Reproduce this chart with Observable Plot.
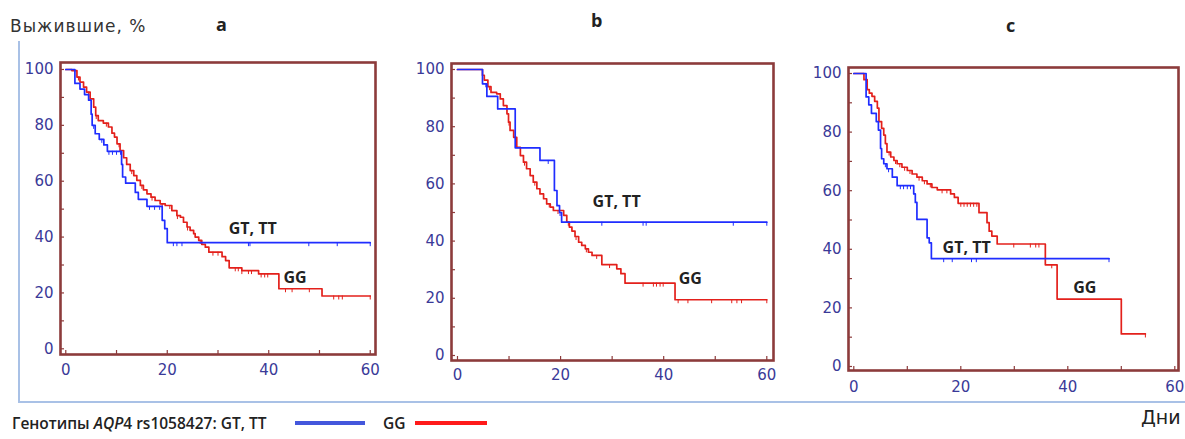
<!DOCTYPE html>
<html><head><meta charset="utf-8">
<script src="https://cdn.jsdelivr.net/npm/d3@7"></script>
<script src="https://cdn.jsdelivr.net/npm/@observablehq/plot@0.6"></script>
<style>
body{margin:0;background:#fff;}
#root{position:relative;width:1185px;height:439px;overflow:hidden;font-family:"DejaVu Sans",Verdana,sans-serif;background:#fff;}
.abs{position:absolute;white-space:nowrap;}
</style></head><body><div id="root"></div>
<script>
// ---------- data ----------
const xTickLabels = [0, 20, 40, 60];
const yTickLabels = [0, 20, 40, 60, 80, 100];
const minorX = [0, 10, 20, 30, 40, 50, 60];
const minorY = [0, 10, 20, 30, 40, 50, 60, 70, 80, 90, 100];
const panelLetters = ["a", "b", "c"];
const seriesNames = ["GT, TT", "GG"];
const yTitle = "Выжившие, %";
const xTitle = "Дни";
const legendPrefix = "Генотипы ";
const legendGene = "AQP";
const legendRest = "4 rs1058427: GT, TT";

// Panel a
const aBlueT = [0, 1.8, 2.8, 3.7, 4.5, 5, 5.2, 5.8, 6.6, 7.5, 8.2, 11, 11.2, 11.8, 13.7, 14.3, 16, 19, 19.5, 20, 60];
const aBlueS = [100, 95, 93, 91, 89, 84, 80, 77, 75, 73, 70.7, 66, 61.5, 59.3, 56, 53.5, 51, 46, 43, 38, 38];
const aRedT = [0, 1.2, 2.2, 2.8, 3.5, 4.1, 4.8, 5.5, 5.9, 6.4, 7.4, 8.4, 9.1, 9.6, 10.1, 10.7, 11.4, 12, 12.7, 13.4, 14, 14.7, 15.3, 16, 16.8, 17.6, 18.6, 19.6, 20.9, 21.9, 22.6, 23.2, 23.9, 24.5, 25.2, 25.5, 26.2, 26.8, 27.5, 28.2, 30.8, 31.5, 32.2, 34.7, 38, 42, 50.5, 60];
const aRedS = [100, 99.6, 97.3, 95.5, 93.7, 91.9, 89.5, 86.5, 83.5, 81.7, 80.8, 79.4, 77.2, 75.8, 73.4, 71, 68.4, 66, 63.8, 62, 60.3, 58.5, 56.9, 55.5, 54.3, 53.1, 51.9, 51.3, 49.5, 47.7, 47.1, 45.3, 43.6, 42.4, 41.2, 40, 38.8, 37.4, 36.4, 34.6, 33, 31.6, 29, 28, 26.8, 21.5, 18.9, 18.9];
const aBlueCens = [5.5, 7.1, 8.5, 9.2, 10, 10.8, 16.5, 17.5, 18.5, 21.2, 21.9, 22.9, 36, 36.3, 47.9, 53.5, 60];
const aRedCens = [2.5, 4.5, 6, 8, 10.5, 13, 15, 17, 19, 20.5, 22, 24, 26.5, 29, 30, 33.4, 34, 34.7, 36, 36.6, 38.5, 39.2, 39.8, 43.3, 44.6, 48, 52.8, 53.8, 54.5, 60];
const aLabelX = [32.1, 42.9];
const aLabelY = [43.1, 25.5];

// Panel b
const bBlueT = [0, 4.85, 5.7, 7.8, 11.2, 16, 18.8, 19.3, 19.8, 20.2, 60];
const bBlueS = [100, 95, 90.6, 86.2, 72.6, 68.2, 57.7, 52.4, 50, 46.6, 46.6];
const bRedT = [0, 4.85, 5.2, 5.9, 6.5, 7.6, 8.3, 8.9, 9.6, 9.9, 10.2, 10.9, 11.5, 12.2, 12.8, 13.4, 14.1, 14.7, 15.4, 16, 16.7, 17.3, 18, 18.6, 20.6, 21.2, 21.7, 22.2, 22.8, 23.5, 24.1, 24.8, 25.4, 26.1, 28, 30.9, 31.7, 32.5, 42.2, 60];
const bRedS = [100, 98, 96.3, 94, 92, 91.5, 89.7, 87.4, 84.5, 81.6, 78.7, 76.3, 72.8, 69.9, 67.6, 65.3, 62.9, 60.6, 58.3, 56.5, 54.8, 53, 51.9, 50.7, 49, 46.6, 44.9, 43.5, 41.6, 39.6, 38.5, 37.3, 36.1, 35, 31.8, 30.3, 28.6, 25.3, 19.5, 19.5];
const bBlueCens = [5.5, 17.6, 19.9, 28, 36, 36.6, 53.5, 60];
const bRedCens = [6.2, 10, 13, 15, 17.8, 19.5, 21.5, 23, 25, 27, 29.5, 36, 38, 38.6, 39.3, 39.9, 42.8, 44.7, 49.3, 53.2, 54.2, 55.1, 60];
const bLabelX = [26.2, 42.9];
const bLabelY = [53.8, 26.9];

// Panel c
const cBlueT = [0, 2.3, 2.8, 3.3, 4.2, 4.6, 5, 5.2, 5.6, 6.2, 7.2, 8.1, 11.2, 11.5, 11.8, 13.7, 14.1, 14.5, 47.7];
const cBlueS = [100, 92, 89.3, 86.4, 83.6, 80.7, 74.4, 70.9, 69.2, 67.5, 64.6, 61.7, 58.9, 56, 50.2, 43.9, 42.2, 36.8, 36.8];
const cRedT = [0, 1.9, 2.5, 2.9, 3.4, 3.9, 4.4, 4.7, 5.2, 5.6, 5.9, 6.2, 6.9, 7.5, 8.1, 9, 10, 10.9, 11.8, 12.8, 13.7, 14.6, 15.6, 18.1, 18.8, 19.5, 23.4, 24.9, 25.3, 25.8, 26.8, 35.8, 38, 50, 54.5];
const cRedS = [100, 97.9, 94.5, 93.3, 92.2, 90.5, 88.2, 83.6, 81.3, 79, 76.1, 73.2, 71.5, 70.3, 69.2, 68, 66.9, 65.7, 64.6, 63.4, 62.3, 61.1, 60.3, 58.9, 57.7, 55.7, 52.5, 49.1, 46.2, 44.5, 41.8, 34.7, 23, 11.1, 11.1];
const cBlueCens = [5.9, 6.5, 8.7, 9.3, 10, 10.6, 16.8, 18.4, 22, 22.9, 47.7];
const cRedCens = [6.6, 7.8, 8.6, 9.5, 10.5, 12.2, 13.2, 14.3, 16.5, 17.4, 20, 20.6, 21.2, 21.8, 22.4, 23, 29.9, 33, 34, 34.6, 37, 54.5];
const cLabelX = [16.6, 41];
const cLabelY = [40.6, 27];

// ---------- styles / layout ----------
const BLUE = "#1f2dff", RED = "#e3201b", FRAME = "#8c3b3b", TICKTXT = "#3a3a98", LABEL = "#222";
const layouts = [
  {left: 0, top: 40, width: 390, height: 350, mL: 60, mR: 15, mT: 22, mB: 36, xd: [-1.04, 61.04], yd: [-2.04, 102.5], xPad: 10, letterX: 222, letterTop: 15},
  {left: 390, top: 40, width: 395, height: 350, mL: 61, mR: 12, mT: 23, mB: 30, xd: [-1.16, 61.3], yd: [-1.75, 102.1], xPad: 9, letterX: 597, letterTop: 11},
  {left: 785, top: 40, width: 400, height: 360, mL: 63, mR: 7, mT: 27, mB: 30, xd: [-0.99, 60.69], yd: [-1.37, 102.05], xPad: 11, letterX: 1012, letterTop: 16}
];
const panels = [
  {bt: aBlueT, bs: aBlueS, rt: aRedT, rs: aRedS, bc: aBlueCens, rc: aRedCens, lx: aLabelX, ly: aLabelY},
  {bt: bBlueT, bs: bBlueS, rt: bRedT, rs: bRedS, bc: bBlueCens, rc: bRedCens, lx: bLabelX, ly: bLabelY},
  {bt: cBlueT, bs: cBlueS, rt: cRedT, rs: cRedS, bc: cBlueCens, rc: cRedCens, lx: cLabelX, ly: cLabelY}
];

function stepValue(ts, ss, t) {
  let v = ss[0];
  for (let i = 0; i < ts.length; i++) if (ts[i] <= t) v = ss[i];
  return v;
}

const root = document.getElementById("root");
function addDiv(html, css) {
  const d = document.createElement("div");
  d.className = "abs";
  d.innerHTML = html;
  Object.assign(d.style, css);
  root.appendChild(d);
  return d;
}

// light blue L frame
addDiv("", {left: "18px", top: "41px", width: "1.5px", height: "361px", background: "#a9c1e6"});
addDiv("", {left: "18px", top: "401px", width: "1167px", height: "1.5px", background: "#a9c1e6"});

panels.forEach((p, i) => {
  const L = layouts[i];
  const pxX = (L.width - L.mL - L.mR) / (L.xd[1] - L.xd[0]);
  const pxY = (L.height - L.mT - L.mB) / (L.yd[1] - L.yd[0]);
  const tickLX = 4 / pxX, tickLY = 4 / pxY, censL = 4 / pxY;
  const blue = p.bt.map((t, k) => ({t, s: p.bs[k]}));
  const red = p.rt.map((t, k) => ({t, s: p.rs[k]}));
  const bc = p.bc.map(t => ({t, s: stepValue(p.bt, p.bs, t)}));
  const rc = p.rc.map(t => ({t, s: stepValue(p.rt, p.rs, t)}));
  const labels = seriesNames.map((name, k) => ({name, x: p.lx[k], y: p.ly[k]}));
  const chart = Plot.plot({
    width: L.width, height: L.height,
    marginLeft: L.mL, marginRight: L.mR, marginTop: L.mT, marginBottom: L.mB,
    x: {domain: L.xd}, y: {domain: L.yd},
    style: {background: "transparent", fontFamily: "'DejaVu Sans', Verdana, sans-serif", fontSize: "15px", color: TICKTXT, overflow: "visible"},
    marks: [
      Plot.axisX({ticks: xTickLabels, tickSize: 0, tickPadding: L.xPad, label: null, tickFormat: d => String(d)}),
      Plot.axisY({ticks: yTickLabels, tickSize: 0, tickPadding: 7, label: null, tickFormat: d => String(d)}),
      Plot.ruleY(minorY, {x1: L.xd[0], x2: L.xd[0] + tickLX, stroke: FRAME, strokeWidth: 1.2}),
      Plot.ruleX(minorX, {y1: L.yd[0], y2: L.yd[0] + tickLY, stroke: FRAME, strokeWidth: 1.2}),
      Plot.line(red, {x: "t", y: "s", curve: "step-after", stroke: RED, strokeWidth: 1.7}),
      Plot.ruleX(rc, {x: "t", y1: "s", y2: d => d.s - censL, stroke: RED, strokeWidth: 1}),
      Plot.line(blue, {x: "t", y: "s", curve: "step-after", stroke: BLUE, strokeWidth: 1.7}),
      Plot.ruleX(bc, {x: "t", y1: "s", y2: d => d.s - censL, stroke: BLUE, strokeWidth: 1}),
      Plot.text(labels, {x: "x", y: "y", text: "name", textAnchor: "start", fontWeight: "bold", fontSize: 16, fill: LABEL, fontFamily: "'Open Sans', sans-serif"}),
      Plot.frame({stroke: FRAME, strokeWidth: 2.6})
    ]
  });
  const wrap = addDiv("", {left: L.left + "px", top: L.top + "px"});
  wrap.appendChild(chart);
  addDiv(panelLetters[i], {left: (L.letterX - 6) + "px", top: L.letterTop + "px", fontSize: "18px", lineHeight: "18px", fontWeight: "bold", color: "#222", fontFamily: "'Open Sans', sans-serif"});
});

// titles
addDiv(yTitle, {left: "10px", top: "15px", fontSize: "17px", lineHeight: "22px", color: "#333", letterSpacing: "1px"});
addDiv(xTitle, {left: "1141px", top: "408px", fontSize: "19px", lineHeight: "19px", color: "#222"});

// legend
const legCss = {top: "415px", fontSize: "15.5px", lineHeight: "16px", fontWeight: "600", color: "#222", fontFamily: "'Open Sans', sans-serif"};
addDiv(legendPrefix + "<i>" + legendGene + "</i>" + legendRest, Object.assign({left: "12px"}, legCss));
addDiv("", {left: "295px", top: "421px", width: "70px", height: "3.5px", background: "#4457dc"});
addDiv(seriesNames[1], Object.assign({left: "383px"}, legCss));
addDiv("", {left: "415px", top: "421px", width: "72px", height: "3.5px", background: "#ff1a1a"});
</script></body></html>
